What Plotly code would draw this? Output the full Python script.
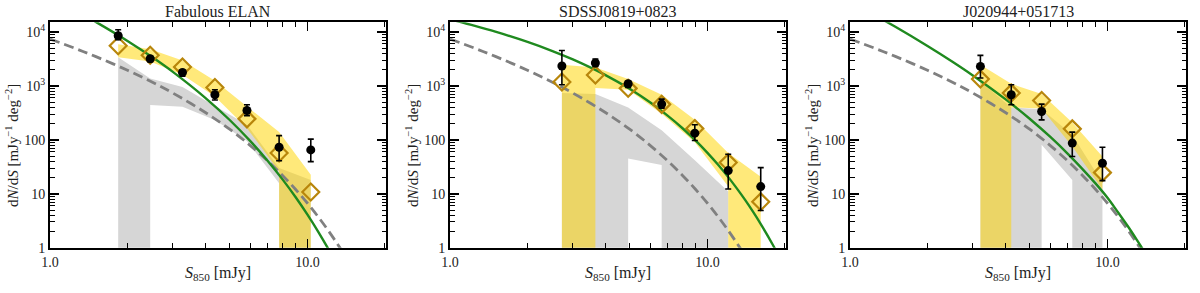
import plotly.graph_objects as go

# ---------------- data ----------------
PANEL_TITLES = ["Fabulous ELAN", "SDSSJ0819+0823", "J020944+051713"]

# panel 1
p1_S = [1.84, 2.45, 3.27, 4.37, 5.82, 7.76, 10.3]
p1_raw = [8530, 3190, 1780, 685, 350, 73, 65]
p1_raw_lo = [7200, 2800, 1520, 550, 281, 41, 39.5]
p1_raw_hi = [11000, 3550, 1960, 850, 447, 120, 103]
p1_deb = [5560, 3700, 2250, 935, 245, 57, 10.8]
p1_band_lo = [3390, 2840, 1610, 638, 165, 26, 0]
p1_band_hi = [5900, 4800, 2970, 1250, 415, 140, 22.5]
p1_gray_lo = [0, 443, 412, 234, 95, 15.6, 0]
p1_gray_hi = [3390, 1380, 960, 430, 190, 30, 18]

# panel 2
p2_S = [2.72, 3.67, 4.92, 6.64, 8.93, 12.04, 16.1]
p2_raw = [2340, 2660, 1096, 460, 133, 26.9, 13.6]
p2_raw_lo = [1050, 2300, 942, 388, 97, 12.3, 4.9]
p2_raw_hi = [4550, 3150, 1216, 570, 190, 54, 30.6]
p2_deb = [1183, 1594, 902, 455, 163, 37.9, 7.1]
p2_band_lo = [0, 912, 848, 304, 90, 13.6, 0]
p2_band_hi = [2470, 2200, 1340, 685, 235, 57, 20.8]
p2_gray_lo = [0, 0, 45, 34, 0, 0, None]
p2_gray_hi = [737, 705, 400, 150, 42, 11, None]

# panel 3
p3_S = [3.21, 4.23, 5.55, 7.30, 9.56]
p3_raw = [2300, 685, 336, 87, 36.9]
p3_raw_lo = [1400, 447, 235, 49, 17.5]
p3_raw_hi = [3680, 1050, 460, 139, 73]
p3_deb = [1340, 737, 537, 160, 24.7]
p3_band_lo = [0, 400, 380, 75, 12]
p3_band_hi = [2470, 1096, 705, 210, 49]
p3_gray_lo = [0, 0, 81, 18, 0]
p3_gray_hi = [1210, 400, 370, 124, 16]

# model curves
model_S = [1.0, 1.25, 1.5, 2.0, 2.5, 3.0, 4.0, 5.0, 6.0, 7.0, 8.0, 9.0,
           10.0, 11.0, 12.0, 13.0, 14.0, 15.0, 16.0, 18.0, 20.0]
field_counts = [7410, 4980, 3530, 1950, 1170, 738, 325, 156, 78.4, 40.9, 21.9,
                12.0, 6.67, 3.75, 2.13, 1.22, 0.71, 0.41, 0.24, 0.084, 0.030]
p1_fit = [44900, 25400, 15600, 6830, 3390, 1820, 608, 231, 94.7, 41.0, 18.5,
          8.61, 4.10, 1.99, 0.98, 0.49, 0.25, 0.127, 0.066, 0.018, 0.005]
p2_fit = [17200, 13000, 10150, 6550, 4440, 3100, 1607, 875, 491, 281, 164,
          96.7, 57.5, 34.5, 20.8, 12.6, 7.7, 4.71, 2.89, 1.10, 0.42]
p3_fit = [36600, 20400, 12500, 5510, 2810, 1565, 575, 244, 113, 55.7, 28.7,
          15.4, 8.43, 4.5, 2.5, 1.4, 0.8, 0.45, 0.25, 0.08, 0.025]

panels = [
    dict(S=p1_S, raw=p1_raw, lo=p1_raw_lo, hi=p1_raw_hi, deb=p1_deb,
         blo=p1_band_lo, bhi=p1_band_hi, glo=p1_gray_lo, ghi=p1_gray_hi, fit=p1_fit),
    dict(S=p2_S, raw=p2_raw, lo=p2_raw_lo, hi=p2_raw_hi, deb=p2_deb,
         blo=p2_band_lo, bhi=p2_band_hi, glo=p2_gray_lo, ghi=p2_gray_hi, fit=p2_fit),
    dict(S=p3_S, raw=p3_raw, lo=p3_raw_lo, hi=p3_raw_hi, deb=p3_deb,
         blo=p3_band_lo, bhi=p3_band_hi, glo=p3_gray_lo, ghi=p3_gray_hi, fit=p3_fit),
]

# ---------------- styling ----------------
W, H = 1200, 293
FONT = "Liberation Serif"
TXT = "#222222"
FLOOR = 1e-3
X_PIX = [(50, 386), (450, 786), (850, 1186)]
Y_PIX = (22.3, 247.7)


def band_polygon(xs, lo, hi):
    idx = [i for i, h in enumerate(hi) if h is not None]
    px, py = [], []
    for i in idx:
        px.append(xs[i]); py.append(hi[i])
    for i in reversed(idx):
        l = lo[i]
        if l and l > 0:
            right_zero = (i + 1 in idx) and not lo[i + 1]
            left_zero = (i - 1 in idx) and not lo[i - 1]
            if right_zero:
                px.append(xs[i]); py.append(FLOOR)
            px.append(xs[i]); py.append(l)
            if left_zero:
                px.append(xs[i]); py.append(FLOOR)
        else:
            px.append(xs[i]); py.append(FLOOR)
    px.append(px[0]); py.append(py[0])
    return px, py


fig = go.Figure()
for k, p in enumerate(panels, start=1):
    xa = "x" if k == 1 else f"x{k}"
    ya = "y" if k == 1 else f"y{k}"
    gx, gy = band_polygon(p["S"], p["glo"], p["ghi"])
    fig.add_trace(go.Scatter(x=gx, y=gy, fill="toself", mode="lines",
                             line=dict(width=0), fillcolor="rgb(214,214,214)",
                             xaxis=xa, yaxis=ya, hoverinfo="skip"))
    bx, by = band_polygon(p["S"], p["blo"], p["bhi"])
    fig.add_trace(go.Scatter(x=bx, y=by, fill="toself", mode="lines",
                             line=dict(width=0), fillcolor="rgba(255,212,0,0.52)",
                             xaxis=xa, yaxis=ya, hoverinfo="skip"))
    fig.add_trace(go.Scatter(x=model_S, y=field_counts, mode="lines",
                             line=dict(color="#808080", width=2.8, dash="10px,5px", shape="spline"),
                             xaxis=xa, yaxis=ya))
    fig.add_trace(go.Scatter(x=model_S, y=p["fit"], mode="lines",
                             line=dict(color="#1f8a1f", width=2.4, shape="spline"),
                             xaxis=xa, yaxis=ya))
    fig.add_trace(go.Scatter(x=p["S"], y=p["deb"], mode="markers",
                             marker=dict(symbol="diamond-open", size=13, color="#B8860B",
                                         line=dict(width=2.2, color="#B8860B")),
                             xaxis=xa, yaxis=ya))
    fig.add_trace(go.Scatter(
        x=p["S"], y=p["raw"], mode="markers",
        marker=dict(symbol="circle", size=9, color="black"),
        error_y=dict(type="data", symmetric=False,
                     array=[h - v for h, v in zip(p["hi"], p["raw"])],
                     arrayminus=[v - l for v, l in zip(p["raw"], p["lo"])],
                     color="black", thickness=1.6, width=3),
        xaxis=xa, yaxis=ya))

y_dom = [1 - Y_PIX[1] / H, 1 - Y_PIX[0] / H]
x_minor = [2, 3, 4, 5, 6, 7, 8, 9, 20]
y_minor = [m * 10 ** d for d in range(4) for m in range(2, 10)]
layout = dict(width=W, height=H, margin=dict(l=0, r=0, t=0, b=0, autoexpand=False),
              paper_bgcolor="white", plot_bgcolor="white", showlegend=False,
              font=dict(family=FONT, color=TXT))
annotations = []
for k in range(1, 4):
    x0, x1 = X_PIX[k - 1]
    common = dict(showline=True, linecolor="black", linewidth=2, mirror="allticks",
                  ticks="inside", ticklen=9, tickwidth=1.5, tickcolor="black",
                  showgrid=False, zeroline=False, automargin=False,
                  tickfont=dict(family=FONT, size=14, color=TXT))
    layout["xaxis" if k == 1 else f"xaxis{k}"] = dict(
        common, domain=[x0 / W, x1 / W], type="log", range=[0, 1.305],
        anchor="y" if k == 1 else f"y{k}",
        tickmode="array", tickvals=[1, 10], ticktext=["1.0", "10.0"],
        minor=dict(tickmode="array", tickvals=x_minor, ticks="inside", ticklen=4.5,
                   tickwidth=1, tickcolor="black", showgrid=False))
    layout["yaxis" if k == 1 else f"yaxis{k}"] = dict(
        common, domain=y_dom, type="log", range=[0, 4.18],
        anchor="x" if k == 1 else f"x{k}",
        tickmode="array", tickvals=[1, 10, 100, 1000, 10000],
        ticktext=["1", "10", "100", "10<sup>3</sup>", "10<sup>4</sup>"],
        minor=dict(tickmode="array", tickvals=y_minor, ticks="inside", ticklen=4.5,
                   tickwidth=1, tickcolor="black", showgrid=False))
    cx = (x0 + x1) / 2 / W
    annotations.append(dict(text=PANEL_TITLES[k - 1], x=cx, y=1 - 12 / H, xref="paper", yref="paper",
                            showarrow=False, xanchor="center", yanchor="middle",
                            font=dict(family=FONT, size=16, color=TXT)))
    annotations.append(dict(text="<i>S</i><sub>850</sub> [mJy]", x=cx, y=1 - 273 / H,
                            xref="paper", yref="paper", showarrow=False,
                            xanchor="center", yanchor="middle",
                            font=dict(family=FONT, size=16, color=TXT)))
    annotations.append(dict(text="d<i>N</i>/d<i>S</i> [mJy<sup>\u22121</sup> deg<sup>\u22122</sup>]",
                            x=(x0 - 38) / W, y=1 - 146 / H, xref="paper", yref="paper",
                            showarrow=False, textangle=-90, xanchor="center", yanchor="middle",
                            font=dict(family=FONT, size=15, color=TXT)))
layout["annotations"] = annotations
fig.update_layout(**layout)
fig.write_html("out.html", config={"displayModeBar": False, "staticPlot": True},
               post_script="document.body.style.margin='0';document.body.style.padding='0';"
                           "document.body.style.overflow='hidden';")
